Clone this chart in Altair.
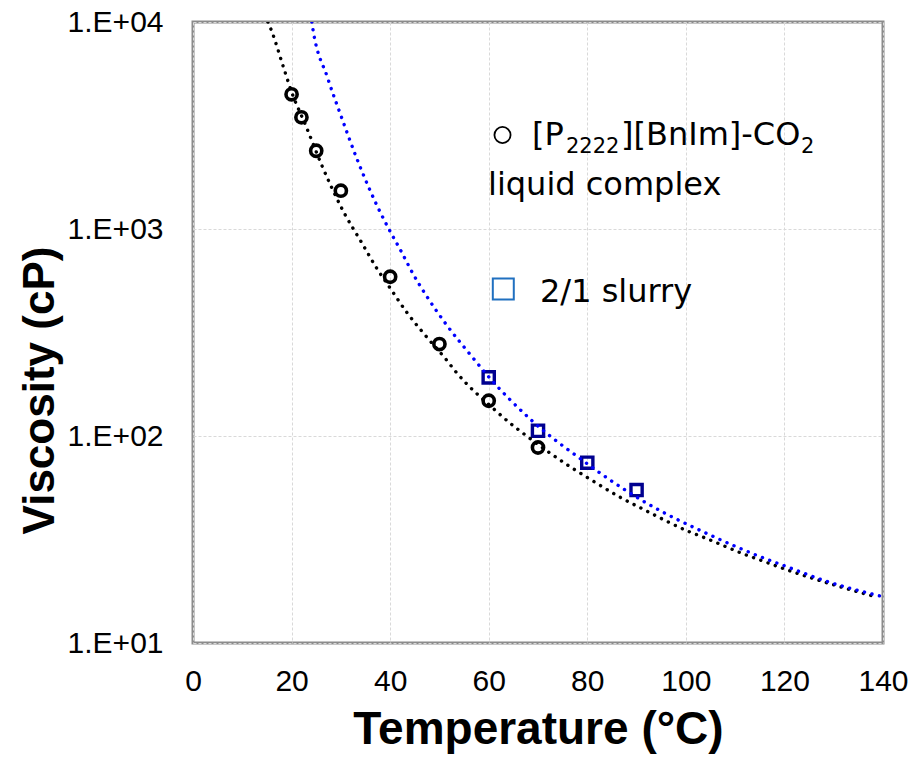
import altair as alt
import pandas as pd

# measured data: [P2222][BnIm]-CO2 liquid complex (open circles)
circle_T = [20, 22, 25, 30, 40, 50, 60, 70]
circle_V = [4475, 3464, 2388, 1531, 588, 278, 148, 88]

# 2/1 slurry (open squares)
square_T = [60, 70, 80, 90]
square_V = [192, 106, 74.3, 54.8]

# dotted trend lines
black_fit_T = [15.2, 15.8, 18.5, 20, 22.9, 26.1, 30.6, 34.1, 37.5, 39.7, 43.5, 46.9, 51.3, 53.5,
               60.9, 65, 66.3, 76.3, 80.5, 86.6, 91.4, 100.8, 104, 112.1, 115.4, 120.2, 130.3, 138.6]
black_fit_V = [10000, 9250, 5900, 4600, 3150, 2040, 1205, 869, 634, 531, 392, 311, 235, 202,
               136, 112, 106, 71.6, 62, 50.7, 44.2, 34.4, 32.1, 26.7, 25, 22.7, 19.0, 16.7]

blue_fit_T = [24.1, 24.3, 27.3, 30.2, 33.2, 38.1, 39.7, 42.2, 44.7, 47.4, 51.3, 56.7, 60.1,
              68.7, 79.7, 83.9, 91.2, 105.2, 116.4, 119.8, 127.9, 139.7]
blue_fit_V = [10000, 9320, 5380, 3430, 2200, 1190, 1004, 783, 604, 474, 348, 240, 192,
              119, 74.3, 63, 48.7, 33, 25.4, 23.7, 20.1, 16.8]

x_ticks = [0, 20, 40, 60, 80, 100, 120, 140]
y_ticks = [10, 100, 1000, 10000]
y_tick_labels = ["1.E+01", "1.E+02", "1.E+03", "1.E+04"]

label_expr = " : ".join(
    f"datum.value == {v} ? '{l}'" for v, l in zip(y_ticks, y_tick_labels)
) + " : ''"

circles = pd.DataFrame({"T": circle_T, "V": circle_V})
squares = pd.DataFrame({"T": square_T, "V": square_V})
black_fit = pd.DataFrame({"T": black_fit_T, "V": black_fit_V})
blue_fit = pd.DataFrame({"T": blue_fit_T, "V": blue_fit_V})

TICK_FONT = "Liberation Sans"
TITLE_FONT = "Liberation Sans"

x_enc = alt.X(
    "T:Q",
    scale=alt.Scale(domain=[0, 140], nice=False, zero=False),
    axis=alt.Axis(
        values=x_ticks, format="d", ticks=False, domain=False,
        grid=True, gridColor="#d9d9d9", gridDash=[3, 2], gridWidth=1,
        labelFont=TICK_FONT, labelFontSize=30, labelColor="#000000",
        labelBaseline="alphabetic", labelPadding=47,
        labelFlush=False, labelOverlap=False,
        title="Temperature (°C)", titleFont=TITLE_FONT, titleFontSize=46,
        titleFontWeight="bold", titleColor="#000000",
        titleX=345, titleY=100, titleAlign="center", titleBaseline="alphabetic",
    ),
)
y_enc = alt.Y(
    "V:Q",
    scale=alt.Scale(type="log", domain=[10, 10000], nice=False),
    axis=alt.Axis(
        values=y_ticks, labelExpr=label_expr, ticks=False, domain=False,
        grid=True, gridColor="#d9d9d9", gridDash=[3, 2], gridWidth=1,
        labelFont=TICK_FONT, labelFontSize=30, labelColor="#000000",
        labelPadding=30, labelFlush=False, labelOverlap=False,
        title="Viscosity (cP)", titleFont=TITLE_FONT, titleFontSize=44,
        titleFontWeight="bold", titleColor="#000000",
        titleX=-153, titleY=368, titleAngle=270, titleAlign="center",
        titleBaseline="middle",
    ),
)

circle_layer = alt.Chart(circles).mark_point(
    shape="circle", filled=False, size=125, strokeWidth=3.6, color="#000000", opacity=1
).encode(x=x_enc, y=y_enc)

square_layer = alt.Chart(squares).mark_point(
    shape="square", filled=False, size=125, strokeWidth=3.4, color="#00008f", opacity=1
).encode(x="T:Q", y="V:Q")

line_style = dict(strokeDash=[0.1, 7.6], strokeCap="round", strokeWidth=3.4,
                  interpolate="monotone", clip=True)
black_line = alt.Chart(black_fit).mark_line(color="#000000", **line_style).encode(
    x="T:Q", y="V:Q")
blue_line = alt.Chart(blue_fit).mark_line(color="#0000ff", **line_style).encode(
    x="T:Q", y="V:Q")

# legend (text box inside the plot)
LEG_FONT = "DejaVu Sans"
legend_texts = pd.DataFrame({
    "txt": ["[P", "2222", "][BnIm]-CO", "2", "liquid complex", "2/1 slurry"],
    "px": [339, 373, 428, 608, 295, 347],
    "py": [123, 131, 123, 131, 173, 280],
    "fs": [32, 21, 32, 21, 32, 32],
})
legend_layers = []
for _, r in legend_texts.iterrows():
    legend_layers.append(
        alt.Chart(pd.DataFrame({"txt": [r["txt"]]})).mark_text(
            align="left", baseline="alphabetic", font=LEG_FONT,
            fontSize=int(r["fs"]), color="#000000"
        ).encode(x=alt.value(float(r["px"])), y=alt.value(float(r["py"])), text="txt:N")
    )

leg_circle = alt.Chart(pd.DataFrame({"k": [0]})).mark_point(
    shape="circle", filled=False, size=260, strokeWidth=1.8, color="#000000", opacity=1
).encode(x=alt.value(309.5), y=alt.value(113))
leg_square = alt.Chart(pd.DataFrame({"k": [0]})).mark_point(
    shape="square", filled=False, size=440, strokeWidth=2, color="#2070c0", opacity=1
).encode(x=alt.value(310.3), y=alt.value(267))

chart = alt.layer(
    circle_layer, square_layer, black_line, blue_line, leg_circle, leg_square, *legend_layers
).properties(
    width=690, height=621,
    padding={"left": 185, "top": 14, "right": 25, "bottom": 112},
    autosize=alt.AutoSizeParams(type="none"),
    background="#ffffff",
).configure_view(stroke="#8c8c8c", strokeWidth=3)

chart.save("out.html", embed_options={"renderer": "svg", "actions": False})
